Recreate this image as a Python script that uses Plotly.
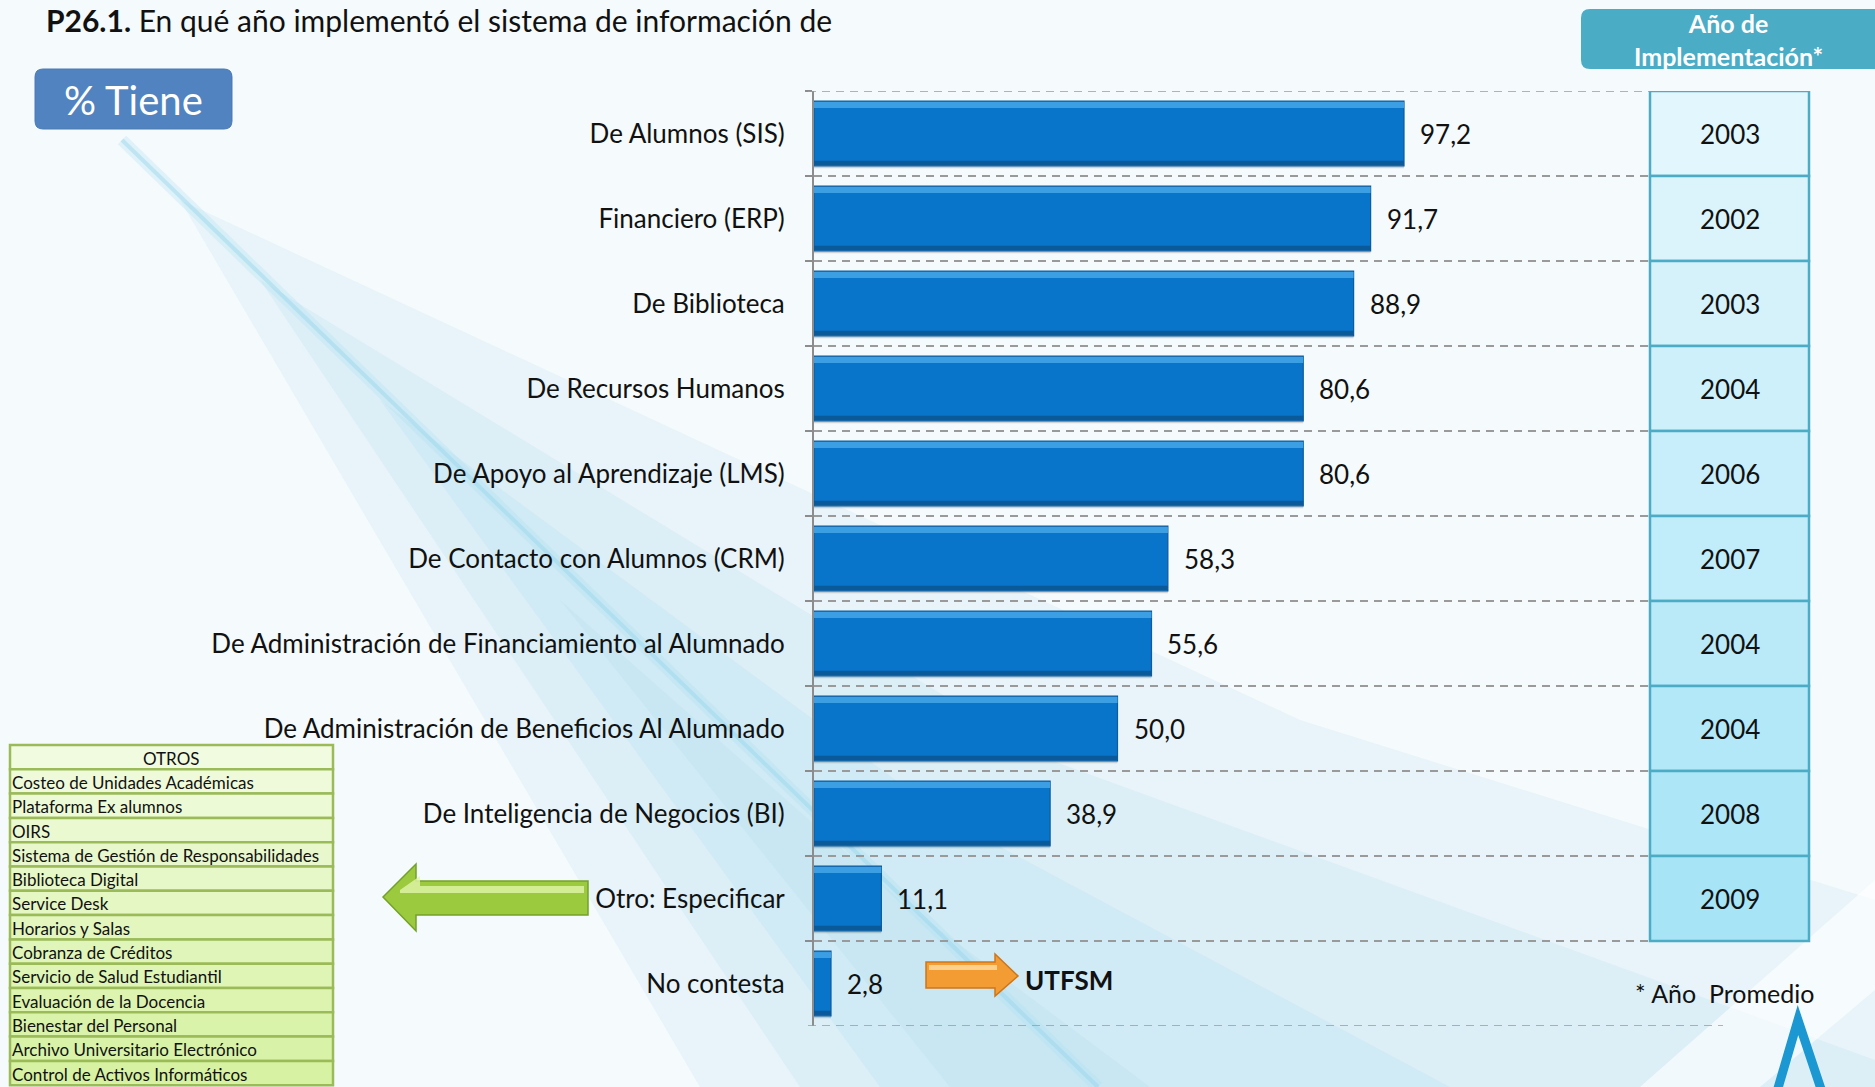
import plotly.graph_objects as go

W, H = 1875, 1087
FONT = "Lato"

# --- data ---
categories = [
    "De Alumnos (SIS)",
    "Financiero (ERP)",
    "De Biblioteca",
    "De Recursos Humanos",
    "De Apoyo al Aprendizaje (LMS)",
    "De Contacto con Alumnos (CRM)",
    "De Administración de Financiamiento al Alumnado",
    "De Administración de Beneficios Al Alumnado",
    "De Inteligencia de Negocios (BI)",
    "Otro: Especificar",
    "No contesta",
]
pct_tiene = [97.2, 91.7, 88.9, 80.6, 80.6, 58.3, 55.6, 50.0, 38.9, 11.1, 2.8]
anio_impl = [2003, 2002, 2003, 2004, 2006, 2007, 2004, 2004, 2008, 2009]
otros = [
    "Costeo de Unidades Académicas",
    "Plataforma Ex alumnos",
    "OIRS",
    "Sistema de Gestión de Responsabilidades",
    "Biblioteca Digital",
    "Service Desk",
    "Horarios y Salas",
    "Cobranza de Créditos",
    "Servicio de Salud Estudiantil",
    "Evaluación de la Docencia",
    "Bienestar del Personal",
    "Archivo Universitario Electrónico",
    "Control de Activos Informáticos",
]


def px(x, y):
    """pixel position -> paper fraction (margins are zero)"""
    return x / W, 1 - y / H


def poly(points, close=True):
    s = []
    for i, (x, y) in enumerate(points):
        fx, fy = px(x, y)
        s.append(("M " if i == 0 else "L ") + f"{fx:.5f},{fy:.5f}")
    return " ".join(s) + (" Z" if close else "")


def rounded(x0, y0, x1, y1, r):
    def p(x, y):
        fx, fy = px(x, y)
        return f"{fx:.5f},{fy:.5f}"
    return (f"M {p(x0 + r, y0)} L {p(x1 - r, y0)} Q {p(x1, y0)} {p(x1, y0 + r)} "
            f"L {p(x1, y1 - r)} Q {p(x1, y1)} {p(x1 - r, y1)} L {p(x0 + r, y1)} "
            f"Q {p(x0, y1)} {p(x0, y1 - r)} L {p(x0, y0 + r)} Q {p(x0, y0)} {p(x0 + r, y0)} Z")


def mix(c1, c2, t):
    a = [int(c1[i:i + 2], 16) for i in (1, 3, 5)]
    b = [int(c2[i:i + 2], 16) for i in (1, 3, 5)]
    return "#" + "".join(f"{round(a[k] + (b[k] - a[k]) * t):02x}" for k in range(3))


def text(x, y, s, size, xanchor="center", color="#111111"):
    fx, fy = px(x, y)
    return dict(x=fx, y=fy, xref="paper", yref="paper", showarrow=False,
                xanchor=xanchor, yanchor="middle", text=s,
                font=dict(family=FONT, size=size, color=color))


fig = go.Figure()

# bars: shadow, body, top highlight, bottom edge
fig.add_trace(go.Bar(
    y=categories, x=pct_tiene, orientation="h", width=0.76, offset=-0.35,
    marker=dict(color="rgba(0,0,0,0.15)", line=dict(width=0)),
    hoverinfo="skip", showlegend=False,
))
fig.add_trace(go.Bar(
    y=categories, x=pct_tiene, orientation="h", width=0.76, offset=-0.38,
    marker=dict(color="#0875ca", line=dict(color="#0b5c9e", width=1.2)),
    name="% Tiene", showlegend=False,
))
fig.add_trace(go.Bar(
    y=categories, x=pct_tiene, orientation="h", width=0.07, offset=-0.37,
    marker=dict(color="#3d9fe3", line=dict(width=0)),
    hoverinfo="skip", showlegend=False,
))
fig.add_trace(go.Bar(
    y=categories, x=pct_tiene, orientation="h", width=0.05, offset=0.32,
    marker=dict(color="#0a5a9a", line=dict(width=0)),
    hoverinfo="skip", showlegend=False,
))

shapes = []
annotations = []

# --- soft background ---
bg_layers = [
    ([(180, 200), (1300, 720), (1875, 900), (1875, 1087), (700, 1087)], 0.15),
    ([(260, 280), (1050, 760), (1875, 1060), (1875, 1087), (800, 1087)], 0.17),
    ([(380, 400), (950, 820), (1450, 1087), (880, 1087)], 0.19),
    ([(560, 600), (900, 900), (1150, 1087), (950, 1087)], 0.17),
]
for pts, op in bg_layers:
    shapes.append(dict(type="path", xref="paper", yref="paper", layer="below",
                       path=poly(pts), fillcolor=f"rgba(160,216,238,{op})", line=dict(width=0)))
shapes.append(dict(type="path", xref="paper", yref="paper", layer="below",
                   path=poly([(1640, 1087), (1760, 1087), (1875, 990), (1875, 880)]),
                   fillcolor="rgba(255,255,255,0.6)", line=dict(width=0)))
x0s, y0s = px(122, 140)
x1s, y1s = px(1098, 1087)
for w, c in [(12, "rgba(170,222,240,0.28)"), (4, "rgba(150,212,236,0.45)")]:
    shapes.append(dict(type="line", xref="paper", yref="paper", layer="below",
                       x0=x0s, y0=y0s, x1=x1s, y1=y1s, line=dict(color=c, width=w)))

# outer dashed lines (top and bottom) of the grid
gx0, _ = px(808, 0)
gx1, _ = px(1650, 0)
gx2, _ = px(1723, 0)
for yv, xe in [(-0.5, gx1), (len(categories) - 0.5, gx2)]:
    shapes.append(dict(type="line", xref="paper", yref="y", x0=gx0, x1=xe, y0=yv, y1=yv,
                       line=dict(color="#9a9a9a", width=1.5, dash="8px,6px")))

# --- year table ---
tx0, _ = px(1650, 0)
tx1, _ = px(1809, 0)
for i, yr in enumerate(anio_impl):
    t = i / (len(anio_impl) - 1)
    shapes.append(dict(type="rect", xref="paper", yref="y", layer="below",
                       x0=tx0, x1=tx1, y0=i - 0.5, y1=i + 0.5,
                       fillcolor=mix("#e2f6fd", "#a6e4f6", t),
                       line=dict(color="#4bacc6", width=2.5)))
    annotations.append(dict(x=(tx0 + tx1) / 2, xref="paper", y=categories[i], yref="y",
                            xanchor="center", yanchor="middle",
                            text=str(yr), showarrow=False,
                            font=dict(family=FONT, size=26, color="#111111")))

# header box for the year column
shapes.append(dict(type="path", xref="paper", yref="paper",
                   path=rounded(1581, 9, 1895, 69, 9),
                   fillcolor="#4bacc6", line=dict(width=0)))
annotations.append(text(1728, 40, "<b>Año de<br>Implementación*</b>", 25, color="white"))

# "% Tiene" box
shapes.append(dict(type="path", xref="paper", yref="paper",
                   path=rounded(35, 69, 232, 129, 8),
                   fillcolor="#5083c0", line=dict(color="#4a7ab3", width=1)))
annotations.append(text(133, 100, "% Tiene", 40, color="white"))

# title
annotations.append(text(44, 20, "<b>P26.1.</b> En qué año implementó el sistema de información de",
                        30, xanchor="left"))

# value labels next to the bars
for cat, v in zip(categories, pct_tiene):
    annotations.append(dict(x=v, y=cat, xref="x", yref="y", xanchor="left", yanchor="middle",
                            xshift=14, showarrow=False, text=f"{v:.1f}".replace(".", ","),
                            font=dict(family=FONT, size=26, color="#111111")))

# --- OTROS table ---
row_h = 24.3
top = 745
rows = ["OTROS"] + otros
for i, label in enumerate(rows):
    y0 = top + i * row_h
    y1 = y0 + row_h
    t = i / (len(rows) - 1)
    fx0, fy0 = px(10, y0)
    fx1, fy1 = px(333, y1)
    shapes.append(dict(type="rect", xref="paper", yref="paper",
                       x0=fx0, x1=fx1, y0=fy1, y1=fy0,
                       fillcolor=mix("#f1fbdf", "#d6f2a2", t),
                       line=dict(color="#9bbb59", width=2.5)))
    if i == 0:
        annotations.append(text(171, (y0 + y1) / 2 + 1, label, 17))
    else:
        annotations.append(text(10, (y0 + y1) / 2 + 1, label, 17, xanchor="left"))

# green arrow pointing at the OTROS table
shapes.append(dict(type="path", xref="paper", yref="paper",
                   path=poly([(383, 897), (416, 864), (416, 881), (588, 881),
                              (588, 915), (416, 915), (416, 931)]),
                   fillcolor="#9cca3e", line=dict(color="#74a12a", width=1.5)))
shapes.append(dict(type="path", xref="paper", yref="paper",
                   path=poly([(400, 890), (420, 876), (420, 886), (584, 886), (584, 893), (400, 893)]),
                   fillcolor="rgba(225,245,170,0.8)", line=dict(width=0)))

# orange arrow + UTFSM
shapes.append(dict(type="path", xref="paper", yref="paper",
                   path=poly([(926, 962), (995, 962), (995, 954), (1018, 976),
                              (995, 996), (995, 988), (926, 988)]),
                   fillcolor="#f39c34", line=dict(color="#cf7618", width=1.5)))
shapes.append(dict(type="path", xref="paper", yref="paper",
                   path=poly([(929, 965), (997, 965), (997, 970), (929, 970)]),
                   fillcolor="rgba(255,214,150,0.9)", line=dict(width=0)))
annotations.append(text(1023, 980, "<b>UTFSM</b>", 26, xanchor="left"))

# footnote
annotations.append(text(1633, 993, "* Año  Promedio", 25, xanchor="left"))

# logo fragment bottom right
shapes.append(dict(type="path", xref="paper", yref="paper",
                   path=poly([(1776, 1095), (1798, 1020), (1823, 1095)], close=False),
                   fillcolor="rgba(0,0,0,0)", line=dict(color="#1b97d1", width=9)))

fig.update_layout(
    width=W, height=H,
    margin=dict(l=0, r=0, t=0, b=0),
    paper_bgcolor="#f5fafc",
    plot_bgcolor="rgba(0,0,0,0)",
    barmode="overlay",
    showlegend=False,
    shapes=shapes,
    annotations=annotations,
    font=dict(family=FONT, color="#111111"),
    xaxis=dict(
        domain=[814 / W, 1650 / W],
        range=[0, (1650 - 814) / 6.07],
        showgrid=False, zeroline=False, showticklabels=False, showline=False,
        fixedrange=True,
    ),
    yaxis=dict(
        domain=[1 - 1026 / H, 1 - 91 / H],
        type="category",
        categoryorder="array", categoryarray=categories,
        range=[len(categories) - 0.5, -0.5],
        showline=True, linecolor="#8c8c8c", linewidth=2,
        ticks="outside", tickson="boundaries", ticklen=7, tickcolor="#8c8c8c", tickwidth=1.5,
        showgrid=True, gridcolor="#9a9a9a", griddash="8px,6px", gridwidth=1.5,
        tickfont=dict(family=FONT, size=26, color="#111111"),
        ticklabelstandoff=22,
        automargin=False,
        fixedrange=True,
    ),
)

fig.write_html("out.html", config={"displayModeBar": False},
               post_script="document.body.style.margin='0px';")
